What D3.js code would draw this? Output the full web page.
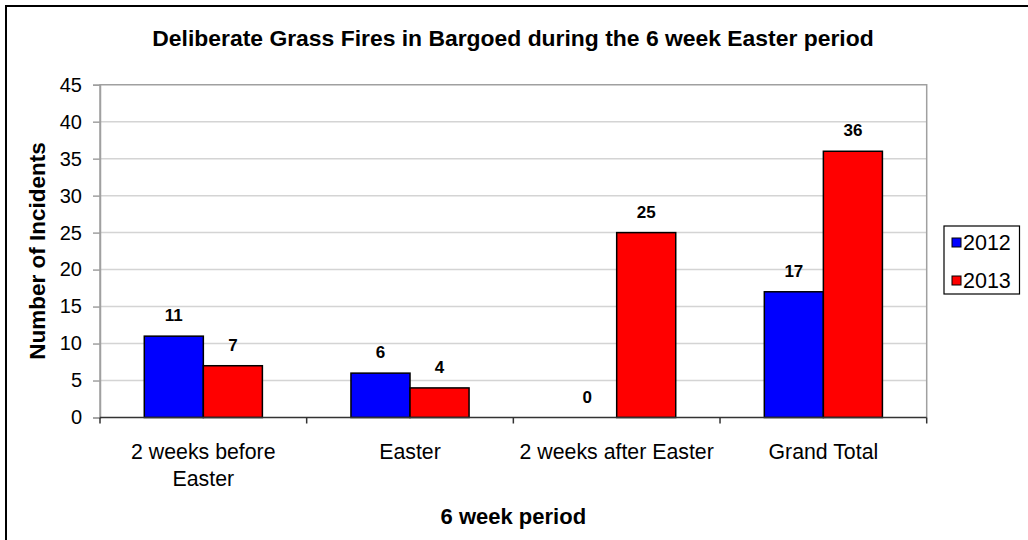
<!DOCTYPE html>
<html><head><meta charset="utf-8">
<script src="https://cdn.jsdelivr.net/npm/d3@7"></script>
<style>body{margin:0;background:#fff;}svg{display:block;font-family:Arial,"Liberation Sans",sans-serif;}</style>
</head><body>
<svg id="c" width="1028" height="540"></svg>
<script>
const categories = ["2 weeks before|Easter", "Easter", "2 weeks after Easter", "Grand Total"];
const seriesNames = ["2012", "2013"];
const values2012 = [11, 6, 0, 17];
const values2013 = [7, 4, 25, 36];
const yTicks = [0, 5, 10, 15, 20, 25, 30, 35, 40, 45];
const colors = ["#0000ff", "#ff0000"];
const title = "Deliberate Grass Fires in Bargoed during the 6 week Easter period";
const xTitle = "6 week period";
const yTitle = "Number of Incidents";

const svg = d3.select("#c");
const L = 100, R = 926.7, T = 84.7, B = 417.5;

svg.append("rect").attr("x", 6).attr("y", 6).attr("width", 1200).attr("height", 800)
  .attr("fill", "#fff").attr("stroke", "#000").attr("stroke-width", 2);

const x0 = d3.scaleBand().domain(categories).range([L, R]).paddingInner(0).paddingOuter(0);
const x1 = d3.scaleBand().domain(seriesNames).range([0, x0.bandwidth()]).paddingInner(0).paddingOuter(0.75);
const y = d3.scaleLinear().domain([0, 45]).range([B, T]);

// gridlines
svg.append("g").selectAll("line").data(yTicks.filter(d => d > 0 && d < 45)).join("line")
  .attr("x1", L).attr("x2", R).attr("y1", d => y(d)).attr("y2", d => y(d))
  .attr("stroke", "#d4d4d4").attr("stroke-width", 1.5);

// plot border
svg.append("path").attr("d", `M${L},${B}V${T}H${R}V${B}`).attr("fill", "none")
  .attr("stroke", "#a0a0a0").attr("stroke-width", 1.5);

// y axis
const yAxis = svg.append("g").attr("transform", `translate(${L},0)`)
  .call(d3.axisLeft(y).tickValues(yTicks).tickSize(7).tickPadding(11).tickFormat(d3.format("d")));
yAxis.select(".domain").attr("stroke", "#a0a0a0").attr("stroke-width", 1.5);
yAxis.selectAll(".tick line").attr("stroke", "#a0a0a0").attr("stroke-width", 1.5);
yAxis.selectAll(".tick text").attr("font-size", 20).attr("fill", "#000")
  .attr("font-family", "Arial, 'Liberation Sans', sans-serif");

// bars
const data = categories.map((c, i) => ({c, vals: [values2012[i], values2013[i]]}));
const g = svg.append("g");
data.forEach(d => {
  d.vals.forEach((v, j) => {
    const bx = x0(d.c) + x1(seriesNames[j]);
    if (v > 0) {
      g.append("rect").attr("x", bx).attr("y", y(v)).attr("width", x1.bandwidth()).attr("height", y(0) - y(v))
        .attr("fill", colors[j]).attr("stroke", "#000").attr("stroke-width", 1.5);
    }
    g.append("text").attr("x", bx + x1.bandwidth() / 2).attr("y", y(v) - 15)
      .attr("text-anchor", "middle").attr("font-size", 17).attr("font-weight", "bold").text(v);
  });
});

// x axis
const xAxis = svg.append("g").attr("transform", `translate(0,${B})`);
xAxis.append("line").attr("x1", L).attr("x2", R).attr("stroke", "#333").attr("stroke-width", 1.5);
const bounds = categories.map(c => x0(c)).concat([R]);
xAxis.selectAll("line.tk").data(bounds).join("line").attr("class", "tk")
  .attr("x1", d => d).attr("x2", d => d).attr("y1", 0).attr("y2", 6).attr("stroke", "#333").attr("stroke-width", 1.5);
categories.forEach(c => {
  const lines = c.split("|");
  const t = svg.append("text").attr("x", x0(c) + x0.bandwidth() / 2).attr("y", 459)
    .attr("text-anchor", "middle").attr("font-size", 21.3);
  lines.forEach((ln, k) => t.append("tspan").attr("x", x0(c) + x0.bandwidth() / 2).attr("dy", k ? 27 : 0).text(ln));
});

// titles
svg.append("text").attr("x", 513).attr("y", 46).attr("text-anchor", "middle")
  .attr("font-size", 22.9).attr("font-weight", "bold").text(title);
svg.append("text").attr("x", (L + R) / 2).attr("y", 524).attr("text-anchor", "middle")
  .attr("font-size", 22).attr("font-weight", "bold").text(xTitle);
svg.append("text").attr("transform", `translate(45,${(T + B) / 2}) rotate(-90)`).attr("text-anchor", "middle")
  .attr("font-size", 22.5).attr("font-weight", "bold").text(yTitle);

// legend
const lg = svg.append("g");
lg.append("rect").attr("x", 944).attr("y", 226).attr("width", 75.5).attr("height", 68)
  .attr("fill", "#fff").attr("stroke", "#000").attr("stroke-width", 1.2);
seriesNames.forEach((s, j) => {
  const yy = 242.5 + j * 38;
  lg.append("rect").attr("x", 952).attr("y", yy - 4.5).attr("width", 9).attr("height", 9)
    .attr("fill", colors[j]).attr("stroke", "#000").attr("stroke-width", 1);
  lg.append("text").attr("x", 963).attr("y", yy + 7.5).attr("font-size", 21.5).text(s);
});
</script>
</body></html>
